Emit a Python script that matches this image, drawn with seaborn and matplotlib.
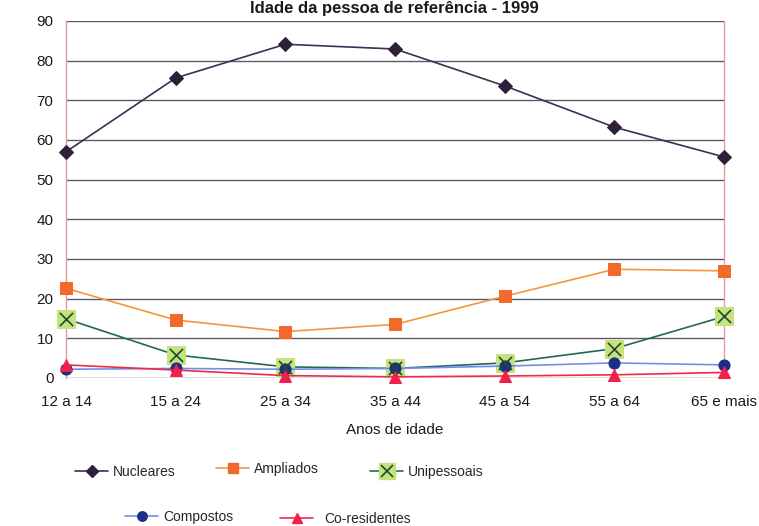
import matplotlib
matplotlib.use("Agg")
import matplotlib.pyplot as plt
from matplotlib.lines import Line2D
from matplotlib.legend_handler import HandlerTuple
import seaborn as sns
import pandas as pd

# Age groups of the reference person
faixas = ["12 a 14", "15 a 24", "25 a 34", "35 a 44", "45 a 54", "55 a 64", "65 e mais"]

# Share of each household type (%)
nucleares = [57.0, 75.6, 84.1, 82.9, 73.6, 63.2, 55.7]
ampliados = [22.6, 14.6, 11.7, 13.5, 20.6, 27.4, 27.0]
unipessoais = [14.9, 5.8, 2.8, 2.4, 3.8, 7.4, 15.5]
compostos = [2.2, 2.4, 2.2, 2.4, 3.0, 3.8, 3.3]
coresidentes = [3.3, 2.0, 0.6, 0.3, 0.5, 0.8, 1.4]

y_ticks = [0, 10, 20, 30, 40, 50, 60, 70, 80, 90]

sns.set_style("white")
plt.rcParams["font.family"] = ["Liberation Sans", "DejaVu Sans"]

df = pd.DataFrame({"faixa": faixas, "pos": range(len(faixas)),
                   "Nucleares": nucleares, "Ampliados": ampliados,
                   "Unipessoais": unipessoais, "Compostos": compostos,
                   "Co-residentes": coresidentes})

fig = plt.figure(figsize=(7.59, 5.26), dpi=100)
ax = fig.add_axes([0.087, 0.2814, 0.867, 0.679])

for y in y_ticks:
    ax.axhline(y, color="#5e5866", lw=1.0, zorder=0)

styles = {
    "Nucleares": dict(color="#3d2f55", marker="D", ms=7, mfc="#2e2038", mec="#2e2038", lw=1.2),
    "Ampliados": dict(color="#f5963a", marker="s", ms=8, mfc="#f26a2a", mec="#f26a2a", lw=1.2),
    "Unipessoais": dict(color="#1f6a55", marker="s", ms=13, mfc="#c5e27c", mec="#c5e27c", lw=1.2),
    "Compostos": dict(color="#6f8fe6", marker="o", ms=8, mfc="#1b2f88", mec="#1b2f88", lw=1.2),
    "Co-residentes": dict(color="#ee2c4a", marker="^", ms=9, mfc="#f0204a", mec="#f0204a", lw=1.2),
}

for name, st in styles.items():
    sns.lineplot(data=df, x="pos", y=name, ax=ax, color=st["color"], lw=st["lw"],
                 marker=st["marker"], markersize=st["ms"], markerfacecolor=st["mfc"],
                 markeredgecolor=st["mec"], clip_on=False, zorder=3)
    if name == "Unipessoais":
        sns.scatterplot(data=df, x="pos", y=name, ax=ax, marker="x", s=90,
                        color="#1f4a30", linewidth=1.2, zorder=4, clip_on=False)

ax.set_xlim(0, len(faixas) - 1)
ax.set_ylim(0, 90)
ax.set_xticks(range(len(faixas)))
ax.set_xticklabels(faixas)
ax.set_yticks(y_ticks)
ax.tick_params(axis="both", labelsize=11, colors="#1a1a1a")
ax.tick_params(axis="x", direction="out", length=8, width=1, pad=4, color="#555555")
ax.tick_params(axis="y", direction="out", length=6, width=1, pad=3, color="#555555")
ax.set_xlabel("Anos de idade", fontsize=11, labelpad=10, color="#1a1a1a")
ax.set_ylabel("")

for s in ["top", "bottom"]:
    ax.spines[s].set_visible(False)
for s in ["left", "right"]:
    ax.spines[s].set_color("#e49a9a")
    ax.spines[s].set_linewidth(1.0)

fig.text(0.52, 0.998, "Idade da pessoa de referência - 1999", ha="center", va="top",
         fontsize=12, fontweight="bold", color="#1a1a1a")

def handle(name):
    st = styles[name]
    return Line2D([], [], color=st["color"], lw=st["lw"], marker=st["marker"],
                  markersize=st["ms"] * 0.85, markerfacecolor=st["mfc"], markeredgecolor=st["mec"])

uni_x = Line2D([], [], ls="none", marker="x", markersize=9, color="#1f4a30", mew=1.2)

# label, handle, left edge (px), centre (px), gap to text
entries = [
    ("Nucleares", handle("Nucleares"), 75, 472, 0.3),
    ("Ampliados", handle("Ampliados"), 216, 469, 0.3),
    ("Unipessoais", (handle("Unipessoais"), uni_x), 370, 472, 0.3),
    ("Compostos", handle("Compostos"), 125, 517, 0.35),
    ("Co-residentes", handle("Co-residentes"), 280, 519, 0.8),
]
W, H = 759, 526
for label, h, px, py, gap in entries:
    fig.legend([h], [label], loc="center left", bbox_to_anchor=(px / W, 1 - py / H),
               frameon=False, fontsize=10, handlelength=2.4, handletextpad=gap,
               borderaxespad=0, borderpad=0,
               handler_map={tuple: HandlerTuple(ndivide=1, pad=0)})

fig.savefig("out.png", dpi=100, facecolor="white")
